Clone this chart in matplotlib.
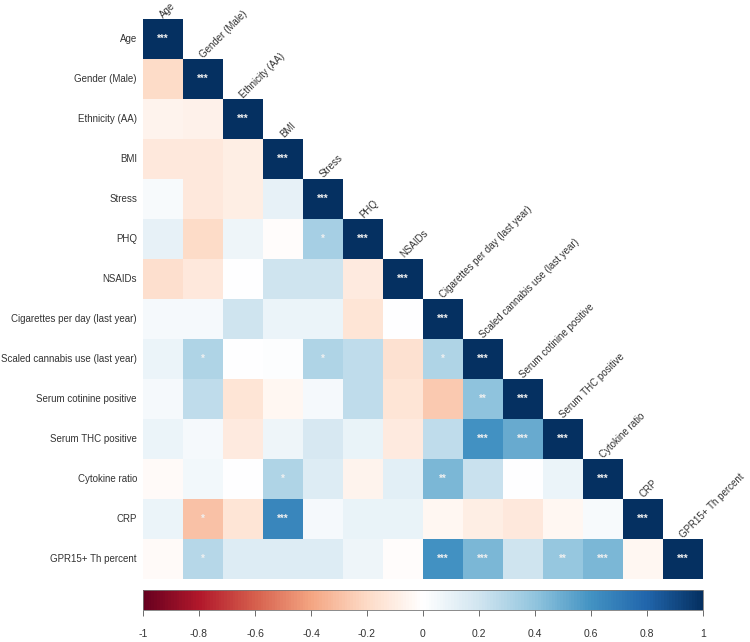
import numpy as np
import matplotlib
matplotlib.use("Agg")
import matplotlib.pyplot as plt
from matplotlib.colors import Normalize, LinearSegmentedColormap
from matplotlib.cm import ScalarMappable

plt.rcParams['font.family'] = ['Liberation Sans', 'DejaVu Sans']

variables = ["Age", "Gender (Male)", "Ethnicity (AA)", "BMI", "Stress", "PHQ",
             "NSAIDs", "Cigarettes per day (last year)",
             "Scaled cannabis use (last year)", "Serum cotinine positive",
             "Serum THC positive", "Cytokine ratio", "CRP", "GPR15+ Th percent"]

# lower-triangle correlations, row i holds columns 0..i-1 (diagonal = 1)
corr_rows = [
    [],
    [-0.20],
    [-0.07, -0.08],
    [-0.13, -0.13, -0.10],
    [0.03, -0.13, -0.10, 0.10],
    [0.10, -0.20, 0.07, -0.02, 0.33],
    [-0.18, -0.13, 0.00, 0.20, 0.20, -0.12],
    [0.04, 0.04, 0.20, 0.08, 0.08, -0.15, 0.00],
    [0.08, 0.30, 0.00, 0.01, 0.30, 0.25, -0.17, 0.30],
    [0.04, 0.25, -0.15, -0.05, 0.04, 0.25, -0.15, -0.27, 0.40],
    [0.08, 0.04, -0.12, 0.07, 0.17, 0.09, -0.12, 0.25, 0.60, 0.50],
    [-0.03, 0.05, 0.00, 0.30, 0.15, -0.07, 0.12, 0.45, 0.22, 0.00, 0.08],
    [0.08, -0.30, -0.15, 0.65, 0.04, 0.09, 0.09, -0.05, -0.10, -0.13, -0.05, 0.03],
    [-0.03, 0.28, 0.15, 0.15, 0.15, 0.07, -0.02, 0.60, 0.45, 0.20, 0.38, 0.45, -0.05],
]

# significance stars (row, col, label)
sig_stars = [
    (5, 4, "*"), (8, 1, "*"), (8, 4, "*"), (8, 7, "*"), (9, 8, "**"),
    (10, 8, "***"), (10, 9, "***"), (11, 3, "*"), (11, 7, "**"),
    (12, 1, "*"), (12, 3, "***"), (13, 1, "*"), (13, 7, "***"),
    (13, 8, "***"), (13, 10, "**"), (13, 11, "***"),
]

cbar_ticks = [-1, -0.8, -0.6, -0.4, -0.2, 0, 0.2, 0.4, 0.6, 0.8, 1]
cbar_labels = ["-1", "-0.8", "-0.6", "-0.4", "-0.2", "0", "0.2", "0.4",
               "0.6", "0.8", "1"]

palette = ["#67001F", "#B2182B", "#D6604D", "#F4A582", "#FDDBC7", "#FFFFFF",
           "#D1E5F0", "#92C5DE", "#4393C3", "#2166AC", "#053061"]

n = len(variables)
mat = np.full((n, n), np.nan)
for i, row in enumerate(corr_rows):
    for j, v in enumerate(row):
        mat[i, j] = v
    mat[i, i] = 1.0

W, H = 750, 642
fig = plt.figure(figsize=(W / 100, H / 100), dpi=100)
gx0, gx1, gy0, gy1 = 143, 703, 19, 579
ax = fig.add_axes([gx0 / W, 1 - gy1 / H, (gx1 - gx0) / W, (gy1 - gy0) / H])
cmap = LinearSegmentedColormap.from_list("RdBu_corrplot", palette, N=200)
norm = Normalize(-1, 1)
masked = np.ma.masked_invalid(mat)
ax.pcolormesh(np.arange(n + 1), np.arange(n + 1), masked, cmap=cmap, norm=norm,
              edgecolors='none')
ax.set_xlim(0, n)
ax.set_ylim(n, 0)
ax.axis('off')

star_color = "#F0F0F0"
for i in range(n):
    ax.text(i + 0.5, i + 0.5, "***", color=star_color, ha="center", va="center",
            fontsize=7, fontweight="bold")
for (r, c, s) in sig_stars:
    ax.text(c + 0.5, r + 0.5, s, color=star_color, ha="center", va="center",
            fontsize=7, fontweight="bold")

label_color = "#333333"
for i, name in enumerate(variables):
    ax.text(-0.15, i + 0.5, name, ha="right", va="center", fontsize=7.0,
            color=label_color)
for i, name in enumerate(variables):
    ax.text(i + 0.52, i - 0.02, name, ha="left", va="baseline", rotation=45,
            rotation_mode="anchor", fontsize=7.0, color=label_color)

# colorbar
cax = fig.add_axes([gx0 / W, 1 - 610 / H, (gx1 - gx0) / W, 20 / H])
sm = ScalarMappable(norm=norm, cmap=cmap)
cb = fig.colorbar(sm, cax=cax, orientation="horizontal")
cb.set_ticks(cbar_ticks)
cb.set_ticklabels(cbar_labels)
cb.ax.tick_params(direction="out", length=4, width=0.6, color="#555555",
                  labelsize=7.5, pad=10, labelcolor=label_color)
cb.outline.set_linewidth(0.6)
cb.outline.set_edgecolor("#777777")

fig.savefig("out.png", dpi=100)
